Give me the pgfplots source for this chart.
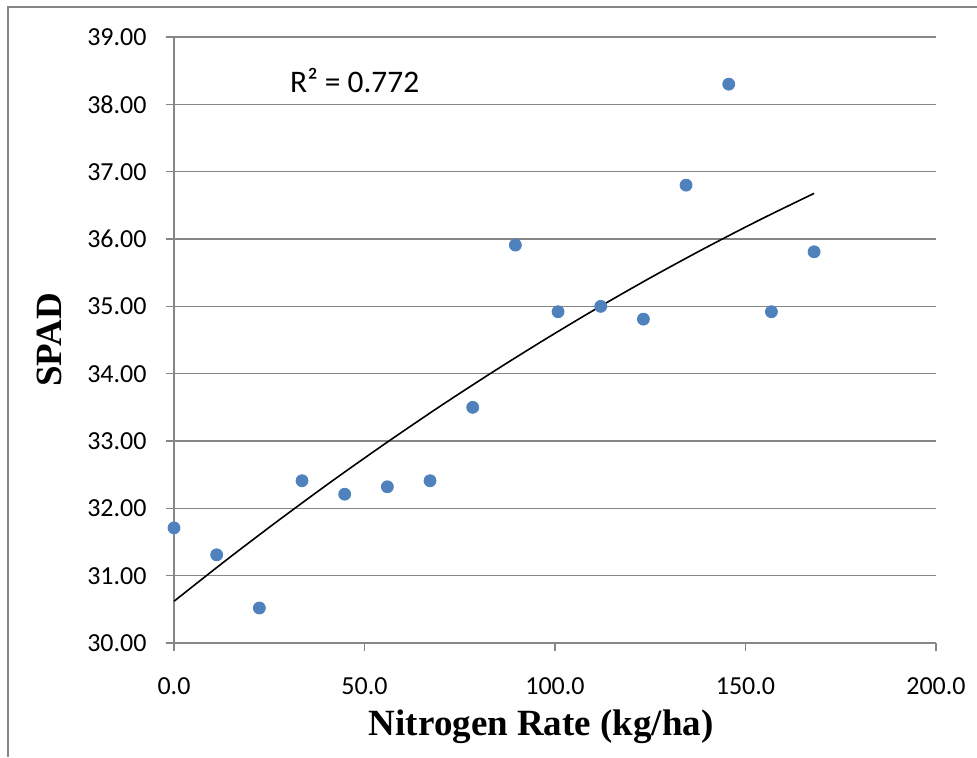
\documentclass[border=0pt]{standalone}
\usepackage{fontspec}
\setmainfont{Carlito}
\newfontfamily\labelfont{Liberation Serif}
\usepackage{pgfplots}
\pgfplotsset{compat=1.18}
\definecolor{ptblue}{RGB}{79,129,189}
\definecolor{gridgray}{RGB}{134,134,134}
\begin{document}
\begin{tikzpicture}
\useasboundingbox (0,0) rectangle (488.5pt,378.5pt);
\draw[gridgray,line width=0.6pt] (4pt,0) -- (4pt,375pt) -- (488.5pt,375pt);
\begin{axis}[
  at={(87pt,57pt)}, anchor=origin,
  scale only axis, width=381pt, height=303pt,
  xmin=0, xmax=200, ymin=30, ymax=39,
  xtick={0,50,...,200}, ytick={30,31,...,39},
  axis x line*=bottom, axis y line*=left,
  axis line style={gridgray,line width=0.8pt},
  ymajorgrids, major grid style={gridgray,line width=0.8pt},
  tick align=outside, major tick length=4pt,
  tick style={gridgray,line width=0.8pt},
  tick label style={font=\fontsize{13}{15}\selectfont},
  /pgf/number format/assume math mode=true,
  yticklabel style={xshift=-6.2pt,/pgf/number format/.cd,fixed,fixed zerofill,precision=2},
  xticklabel style={yshift=-9.7pt,/pgf/number format/.cd,fixed,fixed zerofill,precision=1},
  xlabel={\labelfont\bfseries\fontsize{18.5}{22}\selectfont Nitrogen Rate (kg/ha)},
  ylabel={\labelfont\bfseries\fontsize{18.5}{22}\selectfont SPAD},
  xlabel style={at={(axis description cs:0.482,-0.152)}, anchor=base},
  ylabel style={at={(axis description cs:-0.148,0.5)}, anchor=base, rotate=0},
  clip=false,
]
\addplot[only marks, mark=*, mark size=3pt, color=ptblue] coordinates {
  (0,31.71) (11.2,31.31) (22.4,30.52) (33.6,32.41) (44.8,32.21) (56,32.32)
  (67.2,32.41) (78.4,33.50) (89.6,35.91) (100.8,34.92) (112,35.00)
  (123.2,34.81) (134.4,36.80) (145.6,38.30) (156.8,34.92) (168,35.81)
};
\addplot[black, line width=0.8pt, smooth] coordinates {
  (0,30.62) (14,31.244) (28,31.845) (42,32.426) (56,32.984) (70,33.522)
  (84,34.037) (98,34.531) (112,35.004) (126,35.455) (140,35.884)
  (154,36.292) (168,36.678)
};
\node[anchor=west, inner sep=0pt, font=\fontsize{15.7}{18}\selectfont] at (axis cs:30.4,38.36) {R² = 0.772};
\end{axis}
\end{tikzpicture}
\end{document}
